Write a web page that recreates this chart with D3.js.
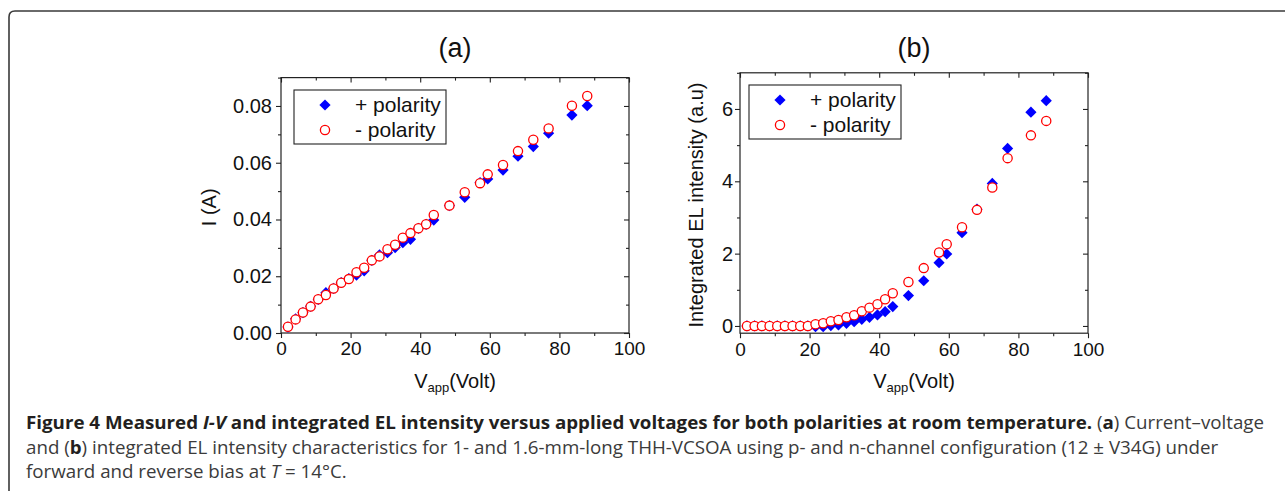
<!DOCTYPE html>
<html>
<head>
<meta charset="utf-8">
<script src="https://cdn.jsdelivr.net/npm/d3@7"></script>
<style>
  html, body { margin: 0; padding: 0; background: #fff; }
  svg { display: block; }
</style>
</head>
<body>
<svg id="chart" width="1285" height="491"></svg>
<script>
// ---------------- data ----------------
const voltage = [2.0, 4.2, 6.3, 8.5, 10.7, 12.9, 15.1, 17.3, 19.5, 21.7, 23.9, 26.1, 28.3, 30.6, 32.8, 35.0, 37.2, 39.5, 41.7, 43.9, 48.4, 52.8, 57.2, 59.4, 63.8, 68.1, 72.5, 76.9, 83.6, 88.0];
const currentPos = [0.0021, 0.0050, 0.0072, 0.0094, 0.0118, 0.0142, 0.0157, 0.0178, 0.0192, 0.0204, 0.0219, 0.0256, 0.0275, 0.0283, 0.0301, 0.0318, 0.0330, 0.0369, 0.0383, 0.0398, 0.0449, 0.0478, 0.0530, 0.0543, 0.0574, 0.0623, 0.0657, 0.0704, 0.0768, 0.0801];
const currentNeg = [0.0022, 0.0048, 0.0072, 0.0093, 0.0119, 0.0134, 0.0157, 0.0177, 0.0190, 0.0214, 0.0230, 0.0256, 0.0270, 0.0295, 0.0311, 0.0336, 0.0352, 0.0369, 0.0383, 0.0416, 0.0449, 0.0496, 0.0528, 0.0559, 0.0592, 0.0641, 0.0681, 0.0721, 0.0801, 0.0835];
const elPos = [0, 0, 0, 0, 0, 0, 0, 0, 0, -0.02, -0.02, 0.01, 0.028, 0.074, 0.12, 0.184, 0.24, 0.304, 0.396, 0.535, 0.84, 1.25, 1.75, 1.99, 2.58, 3.23, 3.94, 4.91, 5.91, 6.23];
const elNeg = [0, 0, 0, 0, 0, 0, 0, 0, 0, 0.046, 0.074, 0.129, 0.166, 0.240, 0.295, 0.406, 0.507, 0.599, 0.737, 0.903, 1.216, 1.60, 2.03, 2.26, 2.73, 3.21, 3.83, 4.64, 5.27, 5.67];
const seriesNames = ["+ polarity", "- polarity"];
const xTicks = [0, 20, 40, 60, 80, 100];
const xMinor = [10, 30, 50, 70, 90];
const yTicksA = [0, 0.02, 0.04, 0.06, 0.08];
const yMinorA = [0.01, 0.03, 0.05, 0.07, 0.09];
const yTicksB = [0, 2, 4, 6];
const yMinorB = [1, 3, 5, 7];

// ---------------- drawing ----------------
const svg = d3.select("#chart");
const FONT = "'Liberation Sans', Arial, sans-serif";

// outer rounded border
svg.append("path")
  .attr("d", "M9,495 L9,17 Q9,11 15,11 L1290,11")
  .attr("fill", "none").attr("stroke", "#3a3a3a").attr("stroke-width", 1.6);

const diamond = "M0,-5.6L5.6,0L0,5.6L-5.6,0Z";

function panel(cfg) {
  const x = d3.scaleLinear().domain([0, 100]).range([cfg.x0, cfg.x1]);
  const y = d3.scaleLinear().domain(cfg.yDomain).range([cfg.yb, cfg.yt]);
  const g = svg.append("g");
  const [L, R] = x.range();
  const [B, T] = y.range();

  g.append("rect").attr("x", L).attr("y", T).attr("width", R - L).attr("height", B - T)
    .attr("fill", "none").attr("stroke", "#222").attr("stroke-width", 1.2);

  const tickStyle = sel => {
    sel.select(".domain").remove();
    sel.selectAll("line").attr("stroke", "#222").attr("stroke-width", 1.1);
    sel.selectAll("text").attr("font-family", FONT).attr("fill", "#111");
  };

  g.append("g").attr("transform", `translate(0,${B})`)
    .call(d3.axisBottom(x).tickValues(xTicks).tickSize(5).tickPadding(4).tickFormat(d3.format("d")))
    .call(tickStyle).call(s => s.selectAll("text").attr("font-size", 19));
  g.append("g").attr("transform", `translate(0,${B})`)
    .call(d3.axisBottom(x).tickValues(xMinor).tickSize(3).tickFormat(""))
    .call(tickStyle);
  g.append("g").attr("transform", `translate(0,${T})`)
    .call(d3.axisBottom(x).tickValues(xTicks).tickSize(5).tickFormat(""))
    .call(tickStyle);
  g.append("g").attr("transform", `translate(0,${T})`)
    .call(d3.axisBottom(x).tickValues(xMinor).tickSize(3).tickFormat(""))
    .call(tickStyle);
  g.append("g").attr("transform", `translate(${L},0)`)
    .call(d3.axisLeft(y).tickValues(cfg.yTicks).tickSize(5).tickPadding(cfg.yPad).tickFormat(cfg.yFmt))
    .call(tickStyle).call(s => s.selectAll("text").attr("font-size", 20));
  g.append("g").attr("transform", `translate(${L},0)`)
    .call(d3.axisLeft(y).tickValues(cfg.yMinor).tickSize(3).tickFormat(""))
    .call(tickStyle);
  g.append("g").attr("transform", `translate(${R},0)`)
    .call(d3.axisLeft(y).tickValues(cfg.yTicks).tickSize(5).tickFormat(""))
    .call(tickStyle);
  g.append("g").attr("transform", `translate(${R},0)`)
    .call(d3.axisLeft(y).tickValues(cfg.yMinor).tickSize(3).tickFormat(""))
    .call(tickStyle);

  g.append("text").attr("x", (L + R) / 2).attr("y", 57).attr("text-anchor", "middle")
    .attr("font-family", FONT).attr("font-size", 27).attr("fill", "#111").text(cfg.title);

  const xl = g.append("text").attr("x", cfg.xLabelX).attr("y", 388).attr("text-anchor", "middle")
    .attr("font-family", FONT).attr("font-size", 20).attr("fill", "#111");
  xl.append("tspan").text("V");
  xl.append("tspan").attr("font-size", 13).attr("dy", 4).text("app");
  xl.append("tspan").attr("dy", -4).text("(Volt)");

  g.append("text").attr("transform", `translate(${cfg.yLabelX},${(T + B) / 2 + 2}) rotate(-90)`)
    .attr("text-anchor", "middle").attr("font-family", FONT).attr("font-size", 20)
    .attr("fill", "#111").text(cfg.yLabel);

  const pos = voltage.map((v, i) => [v, cfg.pos[i]]);
  const neg = voltage.map((v, i) => [v, cfg.neg[i]]);
  g.append("g").selectAll("path").data(pos).join("path")
    .attr("d", diamond).attr("transform", d => `translate(${x(d[0])},${y(d[1])})`)
    .attr("fill", "#0000ff");
  g.append("g").selectAll("circle").data(neg).join("circle")
    .attr("cx", d => x(d[0])).attr("cy", d => y(d[1])).attr("r", 4.6)
    .attr("fill", "#fff").attr("stroke", "#ff0000").attr("stroke-width", 1.3);

  const lg = g.append("g");
  lg.append("rect").attr("x", cfg.leg.x).attr("y", cfg.leg.y).attr("width", 152).attr("height", 54)
    .attr("fill", "#fff").attr("stroke", "#222").attr("stroke-width", 1.1);
  lg.append("path").attr("d", diamond)
    .attr("transform", `translate(${cfg.leg.x + 31},${cfg.leg.y + 15})`).attr("fill", "#0000ff");
  lg.append("circle").attr("cx", cfg.leg.x + 31).attr("cy", cfg.leg.y + 40).attr("r", 4.6)
    .attr("fill", "#fff").attr("stroke", "#ff0000").attr("stroke-width", 1.3);
  seriesNames.forEach((s, i) => {
    lg.append("text").attr("x", cfg.leg.x + 61).attr("y", cfg.leg.y + 22 + i * 25)
      .attr("font-family", FONT).attr("font-size", 21).attr("fill", "#111").text(s);
  });
}

panel({
  x0: 281, x1: 629, yDomain: [0, 0.09], yb: 333, yt: 77.6,
  yTicks: yTicksA, yMinor: yMinorA, yFmt: d3.format(".2f"), yPad: 4,
  title: "(a)", xLabelX: 455, yLabelX: 216, yLabel: "I (A)",
  pos: currentPos, neg: currentNeg, leg: { x: 294, y: 90 }
});
panel({
  x0: 740, x1: 1088, yDomain: [-0.2, 7], yb: 333.2, yt: 72.8,
  yTicks: yTicksB, yMinor: yMinorB, yFmt: d3.format("d"), yPad: 2,
  title: "(b)", xLabelX: 914, yLabelX: 703, yLabel: "Integrated EL intensity (a.u)",
  pos: elPos, neg: elNeg, leg: { x: 749, y: 85 }
});

// ---------------- caption ----------------
const CF = "'Open Sans', 'Noto Sans', sans-serif";
const capLines = [
  { y: 429, parts: [
    { t: "Figure 4 Measured ", b: true },
    { t: "I-V", b: true, i: true },
    { t: " and integrated EL intensity versus applied voltages for both polarities at room temperature.", b: true },
    { t: " (" }, { t: "a", b: true }, { t: ") Current–voltage" }
  ]},
  { y: 454, parts: [
    { t: "and (" }, { t: "b", b: true },
    { t: ") integrated EL intensity characteristics for 1- and 1.6-mm-long THH-VCSOA using p- and n-channel configuration (12 ± V34G) under" }
  ]},
  { y: 478, parts: [
    { t: "forward and reverse bias at " }, { t: "T", i: true }, { t: " = 14°C." }
  ]}
];
const cap = svg.append("g");
const texts = capLines.map(line => {
  const t = cap.append("text").attr("x", 0).attr("y", line.y)
    .attr("font-family", CF).attr("font-size", 18.5).attr("fill", "#3b3b3b");
  line.parts.forEach(p => {
    const s = t.append("tspan").text(p.t);
    if (p.b) s.attr("font-weight", "bold").attr("fill", "#231f20");
    if (p.i) s.attr("font-style", "italic");
  });
  return t;
});
const w1 = texts[0].node().getComputedTextLength();
const sx = 1239 / w1;
cap.attr("transform", `translate(26,0) scale(${sx},1)`);
</script>
</body>
</html>
